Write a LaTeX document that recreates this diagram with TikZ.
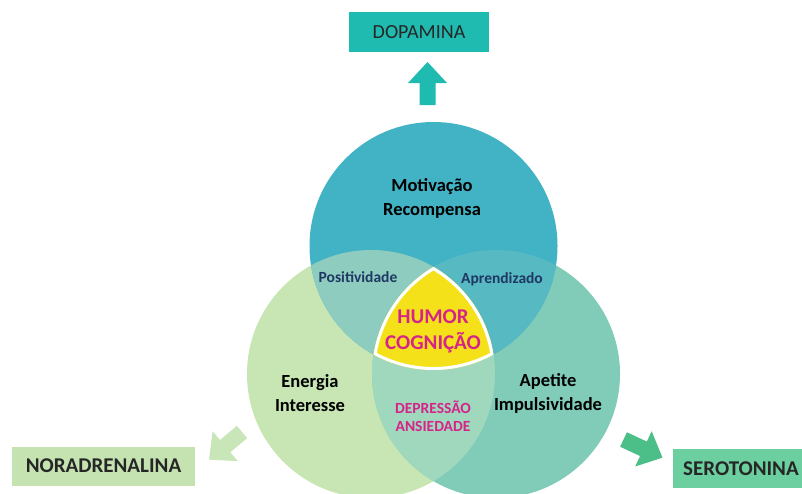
\documentclass[tikz,border=0pt]{standalone}
\usepackage{fontspec}
\setmainfont{Carlito}
\usetikzlibrary{positioning}
\definecolor{dopa}{HTML}{1FBBB0}
\definecolor{nora}{HTML}{C4E3B0}
\definecolor{noraarrow}{HTML}{C8E6B8}
\definecolor{sero}{HTML}{6CCF9F}
\definecolor{seroarrow}{HTML}{4CBF88}
\definecolor{topc}{HTML}{42B3C4}
\definecolor{leftc}{HTML}{C7E6B4}
\definecolor{rightc}{HTML}{80CCB8}
\definecolor{tl}{HTML}{8DCCBE}
\definecolor{tr}{HTML}{57B9C2}
\definecolor{lr}{HTML}{A0D8BE}
\definecolor{core}{HTML}{F5E11A}
\definecolor{hot}{HTML}{D6238A}
\definecolor{navy}{HTML}{1F3864}
\definecolor{ink}{HTML}{262626}
\tikzset{
  lobe/.style={circle, minimum size=248pt, inner sep=0pt}, % the three big circles
  box/.style={inner sep=0pt, text=ink, font=\fontsize{20}{24}\selectfont}, % transmitter boxes
  tag/.style={align=center, font=\bfseries\fontsize{18.5}{24}\selectfont}, % text in a circle
  pair/.style={text=navy, font=\bfseries\fontsize{15.5}{18}\selectfont}, % text in an overlap
  fat arrow/.pic={\path[pic actions] (0,-8) -- (22,-8) -- (22,-19.5) -- (43,0)
    -- (22,19.5) -- (22,8) -- (0,8) -- cycle;}, % block arrow, tail at origin
}
\begin{document}
\begin{tikzpicture}[x=1pt, y=-1pt]
  \clip (0,0) rectangle (802,493);
  \fill[white] (0,0) rectangle (802,493);

  % circles
  \node[lobe, fill=leftc] (ene) at (371,374) {};
  \node[lobe, fill=rightc] (ape) at (496,374) {};
  \node[lobe, fill=topc] (mot) at (433.5,246) {};

  % overlaps
  \begin{scope}
    \clip (mot.center) circle (124pt);
    \fill[tl] (ene.center) circle (124pt);
    \fill[tr] (ape.center) circle (124pt);
  \end{scope}
  \begin{scope}
    \clip (ene.center) circle (124pt);
    \fill[lr] (ape.center) circle (124pt);
  \end{scope}
  \begin{scope}
    \clip (mot.center) circle (124pt);
    \clip (ene.center) circle (124pt);
    \clip (ape.center) circle (124pt);
    \fill[core] (mot.center) circle (124pt);
    \draw[white, line width=6pt] (mot.center) circle (124pt)
      (ene.center) circle (124pt) (ape.center) circle (124pt);
  \end{scope}

  % texts
  \node[tag] (mot_t) at (432,198) {Motivação\\Recompensa};
  \node[tag] (ene_t) at (310,393) {Energia\\Interesse};
  \node[tag] (ape_t) at (548,393) {Apetite\\Impulsividade};
  \node[pair] (pos) at (358,277) {Positividade};
  \node[pair] (apr) at (502,279) {Aprendizado};
  \node[tag, text=hot, font=\bfseries\fontsize{21}{26}\selectfont] (core_t) at (433,331) {HUMOR\\COGNIÇÃO};
  \node[tag, text=hot, font=\bfseries\fontsize{15.5}{18}\selectfont] (dep) at (433,416) {DEPRESSÃO\\ANSIEDADE};

  % transmitters
  \node[box, fill=dopa, minimum width=140, minimum height=40] (dopa) at (419,32) {DOPAMINA};
  \node[box, fill=nora, minimum width=183, minimum height=39,
    font=\bfseries\fontsize{21}{24}\selectfont] (nora) at (103.5,466) {NORADRENALINA};
  \node[box, fill=sero, anchor=west, minimum height=39, text width=130, inner xsep=10,
    font=\bfseries\fontsize{21}{24}\selectfont] (sero) at (673,468.5) {SEROTONINA};

  % arrows
  \pic[fill=dopa, rotate=90] (up) at (427.5,105) {fat arrow};
  \pic[fill=noraarrow, rotate=220] (dl) at (242,432) {fat arrow};
  \pic[fill=seroarrow, rotate=-25] (dr) at (623.5,439.5) {fat arrow};
\end{tikzpicture}
\end{document}
